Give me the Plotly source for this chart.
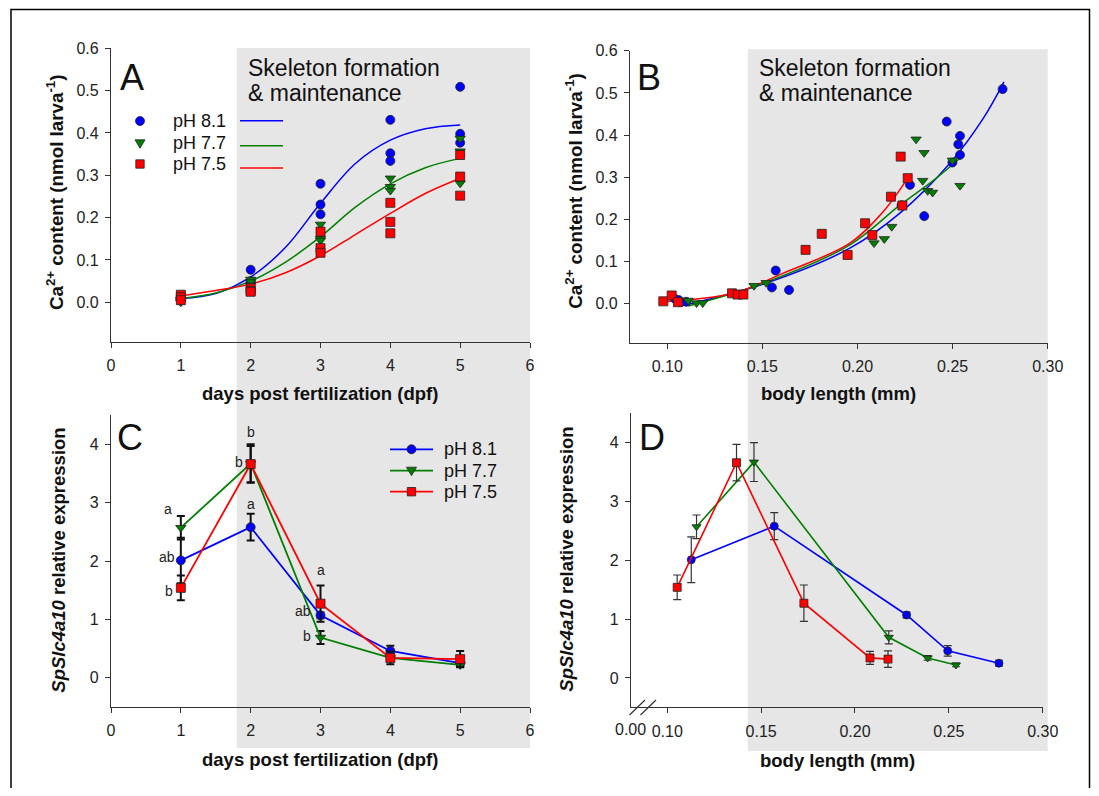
import plotly.graph_objects as go

# page is 1099x796, the body keeps its default 8px margin
W, H = 1083, 780
OFF = 8
FONT = "Arial, Liberation Sans, sans-serif"
BLUE, GREEN, RED = "#0000ff", "#007f00", "#ff0000"
GREY = "#e6e6e6"

# ---- Panel A: Ca2+ content vs dpf (3 replicates per day) ----
dpf_reps = [1, 1, 1, 2, 2, 2, 3, 3, 3, 4, 4, 4, 5, 5, 5]
ca_dpf_81 = [0.008, 0.012, 0.006, 0.077, 0.050, 0.045, 0.280, 0.231, 0.208, 0.431, 0.352, 0.334, 0.509, 0.398, 0.377]
ca_dpf_77 = [0.003, 0.006, 0.000, 0.054, 0.048, 0.040, 0.184, 0.150, 0.146, 0.293, 0.273, 0.264, 0.387, 0.357, 0.281]
ca_dpf_75 = [0.018, 0.012, 0.005, 0.033, 0.027, 0.025, 0.167, 0.128, 0.117, 0.235, 0.190, 0.163, 0.348, 0.297, 0.252]

# fitted curves
fit_dpf = [1, 1.5, 2, 2.5, 3, 3.5, 4, 4.5, 5]
fit_dpf_81 = [0.009, 0.021, 0.060, 0.130, 0.234, 0.328, 0.383, 0.410, 0.419]
fit_dpf_77 = [0.009, 0.022, 0.050, 0.095, 0.155, 0.225, 0.280, 0.318, 0.340]
fit_dpf_75 = [0.015, 0.028, 0.043, 0.070, 0.110, 0.160, 0.210, 0.257, 0.293]

# ---- Panel B: Ca2+ content vs body length ----
len_81 = [0.104, 0.106, 0.110, 0.155, 0.157, 0.164, 0.2232, 0.2276, 0.2351, 0.2469, 0.2499, 0.2530, 0.2539, 0.2539, 0.2763]
ca_len_81 = [0.012, 0.009, 0.005, 0.039, 0.079, 0.033, 0.234, 0.282, 0.208, 0.432, 0.335, 0.378, 0.398, 0.353, 0.509]
len_77 = [0.111, 0.1154, 0.1186, 0.1456, 0.152, 0.2087, 0.2141, 0.218, 0.2308, 0.235, 0.2343, 0.2369, 0.2395, 0.2539, 0.2499]
ca_len_77 = [0.008, 0.002, 0.002, 0.043, 0.050, 0.144, 0.154, 0.183, 0.390, 0.358, 0.292, 0.268, 0.264, 0.280, 0.340]
len_75 = [0.0979, 0.1023, 0.1056, 0.134, 0.137, 0.140, 0.1727, 0.1812, 0.1948, 0.204, 0.2078, 0.2176, 0.2227, 0.2236, 0.2264]
ca_len_75 = [0.006, 0.020, 0.004, 0.025, 0.022, 0.022, 0.128, 0.166, 0.116, 0.191, 0.163, 0.254, 0.349, 0.233, 0.298]

fit_len_81 = [0.106, 0.1505, 0.196, 0.2223, 0.2486, 0.2662, 0.277]
fit_ca_81 = [-0.006, 0.047, 0.132, 0.215, 0.333, 0.440, 0.526]
fit_len_77 = [0.111, 0.1505, 0.196, 0.2223, 0.2398, 0.2539]
fit_ca_77 = [-0.005, 0.049, 0.140, 0.234, 0.292, 0.345]
fit_len_75 = [0.098, 0.1347, 0.161, 0.196, 0.2136, 0.2264]
fit_ca_75 = [0.005, 0.025, 0.073, 0.144, 0.219, 0.298]

# ---- Panels C/D: SpSlc4a10 relative expression (mean +- SE) ----
days = [1, 2, 3, 4, 5]
expr_81 = [2.01, 2.58, 1.07, 0.46, 0.25]
expr_77 = [2.57, 3.67, 0.69, 0.34, 0.22]
expr_75 = [1.54, 3.66, 1.27, 0.34, 0.32]
se_81 = [0.39, 0.23, 0.05, 0.09, 0.05]
se_77 = [0.20, 0.33, 0.11, 0.04, 0.03]
se_75 = [0.21, 0.31, 0.31, 0.11, 0.14]
body_81 = [0.1128, 0.157, 0.2275, 0.2494, 0.2767]
body_77 = [0.1156, 0.1462, 0.218, 0.2387, 0.2538]
body_75 = [0.1053, 0.1369, 0.1728, 0.208, 0.2176]

labels = ["pH 8.1", "pH 7.7", "pH 7.5"]
colors = [BLUE, GREEN, RED]
symbols = ["circle", "triangle-down", "square"]

# significance letters in C: (text, day, value)
sig_letters = [("a", 0.82, 2.89), ("ab", 0.80, 2.07), ("b", 0.83, 1.48),
               ("b", 2.0, 4.21), ("b", 1.83, 3.70), ("a", 2.0, 2.98),
               ("a", 3.0, 1.85), ("ab", 2.75, 1.15), ("b", 2.81, 0.72)]


# page pixel -> paper fraction
def px(x):
    return (x - OFF) / W


def py(y):
    return 1 - (y - OFF) / H


fig = go.Figure()

# panel A
for fy, c in zip([fit_dpf_81, fit_dpf_77, fit_dpf_75], colors):
    fig.add_trace(go.Scatter(x=fit_dpf, y=fy, mode="lines", line=dict(color=c, width=1.5, shape="spline"),
                             xaxis="x", yaxis="y", showlegend=False))
for ys, c, s in zip([ca_dpf_81, ca_dpf_77, ca_dpf_75], colors, symbols):
    fig.add_trace(go.Scatter(x=dpf_reps, y=ys, mode="markers",
                             marker=dict(color=c, symbol=s, size=9, line=dict(color="#222", width=0.8)),
                             xaxis="x", yaxis="y", showlegend=False))

# panel B
for fx, fy, c in zip([fit_len_81, fit_len_77, fit_len_75], [fit_ca_81, fit_ca_77, fit_ca_75], colors):
    fig.add_trace(go.Scatter(x=fx, y=fy, mode="lines", line=dict(color=c, width=1.5, shape="spline"),
                             xaxis="x2", yaxis="y2", showlegend=False))
for xs, ys, c, s in zip([len_81, len_77, len_75], [ca_len_81, ca_len_77, ca_len_75], colors, symbols):
    fig.add_trace(go.Scatter(x=xs, y=ys, mode="markers",
                             marker=dict(color=c, symbol=s, size=9, line=dict(color="#222", width=0.8)),
                             xaxis="x2", yaxis="y2", showlegend=False))

# panel C
for ys, es, c, s in zip([expr_81, expr_77, expr_75], [se_81, se_77, se_75], colors, symbols):
    fig.add_trace(go.Scatter(x=days, y=ys, mode="lines+markers",
                             line=dict(color=c, width=1.8),
                             marker=dict(color=c, symbol=s, size=9, line=dict(color="#222", width=0.8)),
                             error_y=dict(type="data", array=es, color="#111", thickness=2, width=4),
                             xaxis="x3", yaxis="y3", showlegend=False))

# panel D
for xs, ys, es, c, s in zip([body_81, body_77, body_75], [expr_81, expr_77, expr_75],
                            [se_81, se_77, se_75], colors, symbols):
    fig.add_trace(go.Scatter(x=xs, y=ys, mode="lines+markers",
                             line=dict(color=c, width=1.6),
                             marker=dict(color=c, symbol=s, size=8, line=dict(color="#222", width=0.8)),
                             error_y=dict(type="data", array=es, color="#333", thickness=1.2, width=4),
                             xaxis="x4", yaxis="y4", showlegend=False))

axis_style = dict(showline=True, linecolor="#333", linewidth=1.2, ticks="outside", ticklen=5,
                  tickwidth=1.2, tickcolor="#333", showgrid=False, zeroline=False, automargin=False,
                  tickfont=dict(family=FONT, size=16, color="#222"))
xstyle = dict(axis_style, ticklabelstandoff=4)
ystyle = dict(axis_style, ticklabelstandoff=3)

fig.update_layout(
    width=W, height=H, margin=dict(l=0, r=0, t=0, b=0, autoexpand=False),
    paper_bgcolor="white", plot_bgcolor="rgba(0,0,0,0)",
    xaxis=dict(xstyle, domain=[px(111), px(530)], range=[0, 6], dtick=1, anchor="y"),
    yaxis=dict(ystyle, domain=[py(341.7), py(48.3)], range=[-0.093, 0.6],
               tickvals=[0, 0.1, 0.2, 0.3, 0.4, 0.5, 0.6], tickformat=".1f", anchor="x"),
    xaxis2=dict(xstyle, domain=[px(630), px(1047.7)], range=[0.0804, 0.30],
                tickvals=[0.10, 0.15, 0.20, 0.25, 0.30], tickformat=".2f", anchor="y2"),
    yaxis2=dict(ystyle, domain=[py(342.7), py(50.7)], range=[-0.092, 0.6],
                tickvals=[0, 0.1, 0.2, 0.3, 0.4, 0.5, 0.6], tickformat=".1f", anchor="x2"),
    xaxis3=dict(xstyle, domain=[px(111), px(530)], range=[0, 6], dtick=1, anchor="y3"),
    yaxis3=dict(ystyle, domain=[py(707), py(415)], range=[-0.5, 4.5],
                tickvals=[0, 1, 2, 3, 4], anchor="x3"),
    xaxis4=dict(xstyle, domain=[px(631), px(1042.7)], range=[0.0807, 0.30],
                tickvals=[0.10, 0.15, 0.20, 0.25, 0.30], tickformat=".2f", anchor="y4"),
    yaxis4=dict(ystyle, domain=[py(707.3), py(413.3)], range=[-0.5, 4.5],
                tickvals=[0, 1, 2, 3, 4], anchor="x4"),
)

shapes = []
# grey "skeleton formation" background, one per column
shapes.append(dict(type="rect", xref="x", yref="paper", x0=1.8, x1=6, y0=py(748), y1=py(48),
                   fillcolor=GREY, line=dict(width=0), layer="below"))
shapes.append(dict(type="rect", xref="x2", yref="paper", x0=0.1423, x1=0.3013, y0=py(751), y1=py(49.3),
                   fillcolor=GREY, line=dict(width=0), layer="below"))
# outer frame
shapes.append(dict(type="rect", xref="paper", yref="paper", x0=px(11), x1=px(1089.5), y0=-0.03, y1=py(9.5),
                   line=dict(color="black", width=1.5)))
# axis break marks in D
for x0 in (629.5, 640.5):
    shapes.append(dict(type="line", xref="paper", yref="paper", x0=px(x0), x1=px(x0 + 15.5),
                       y0=py(715), y1=py(700), line=dict(color="#333", width=1.2)))

annotations = []


def text(x, y, s, size, bold=False, xanchor="center", angle=0, xref="paper", yref="paper", color="#111"):
    annotations.append(dict(x=x, y=y, xref=xref, yref=yref, text=s, showarrow=False, textangle=angle,
                            xanchor=xanchor, yanchor="middle",
                            font=dict(family=FONT, size=size, color=color,
                                      weight="bold" if bold else "normal")))


def key_marker(s, c, x, y):
    common = dict(xref="paper", yref="paper", xsizemode="pixel", ysizemode="pixel",
                  xanchor=px(x), yanchor=py(y), fillcolor=c, line=dict(color="#222", width=0.8))
    if s == "circle":
        shapes.append(dict(common, type="circle", x0=-4.5, x1=4.5, y0=-4.5, y1=4.5))
    elif s == "square":
        shapes.append(dict(common, type="rect", x0=-4.2, x1=4.2, y0=-4.2, y1=4.2))
    else:
        shapes.append(dict(common, type="path", path="M-5,3.5 L5,3.5 L0,-5 Z"))


# A legend: marker, label, line
for lab, c, s, ym, yl in zip(labels, colors, symbols, [121, 143.3, 164], [120.7, 145.7, 168]):
    key_marker(s, c, 140, ym)
    text(px(171), py(ym), lab, 18, xanchor="left")
    shapes.append(dict(type="line", xref="paper", yref="paper", x0=px(240), x1=px(283),
                       y0=py(yl), y1=py(yl), line=dict(color=c, width=1.5)))

# C legend: line with marker, label
for lab, c, s, yy in zip(labels, colors, symbols, [449.3, 470.7, 491.7]):
    shapes.append(dict(type="line", xref="paper", yref="paper", x0=px(390), x1=px(433),
                       y0=py(yy), y1=py(yy), line=dict(color=c, width=1.8)))
    key_marker(s, c, 411.5, yy)
    text(px(441.7), py(yy), lab, 18, xanchor="left")

# panel letters
for lab, x, y in [("A", 132, 77), ("B", 649, 77), ("C", 130, 437), ("D", 652, 437)]:
    text(px(x), py(y), lab, 36)

# shaded region captions
for x in (246, 757):
    text(px(x), py(68), "Skeleton formation", 23, xanchor="left")
    text(px(x), py(93), "&amp; maintenance", 23, xanchor="left")

# axis titles
text(px(320), py(393), "days post fertilization (dpf)", 18.5, bold=True)
text(px(838), py(393), "body length (mm)", 18.5, bold=True)
text(px(320), py(759), "days post fertilization (dpf)", 18.5, bold=True)
text(px(837), py(760), "body length (mm)", 18.5, bold=True)
text(px(55), py(193), "Ca<sup>2+</sup> content (nmol larva<sup>-1</sup>)", 18.8, bold=True, angle=-90)
text(px(574), py(191.7), "Ca<sup>2+</sup> content (nmol larva<sup>-1</sup>)", 18.8, bold=True, angle=-90)
text(px(59), py(560.7), "<i>SpSlc4a10</i> relative expression", 18.5, bold=True, angle=-90)
text(px(567), py(559.7), "<i>SpSlc4a10</i> relative expression", 18.5, bold=True, angle=-90)

# broken-axis origin label in D
text(px(630.5), py(729.3), "0.00", 16, color="#222")

# significance letters
for s, x, y in sig_letters:
    text(x, y, s, 14, xref="x3", yref="y3", color="#222")

fig.update_layout(shapes=shapes, annotations=annotations)

fig.write_html("out.html", config={"displayModeBar": False})
